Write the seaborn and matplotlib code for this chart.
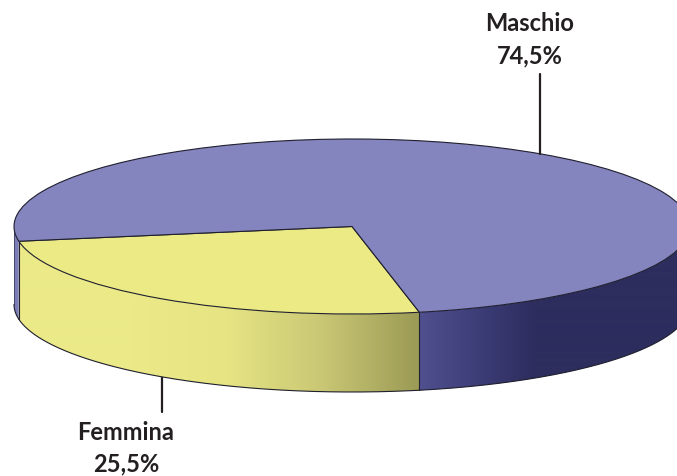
import seaborn as sns
import numpy as np
import matplotlib
matplotlib.use('Agg')
import matplotlib.pyplot as plt

labels = ['Femmina', 'Maschio']
values = [25.5, 74.5]
pct_labels = ['25,5%', '74,5%']

W, H = 677, 477
CX, CY, RX, RY, DEPTH = 352, 227.5, 338, 87.5, 78
START = 189.7
EDGE = '#1f1f2e'
TXT = '#231f20'


def dx(px):
    return (px - CX) / RX


def dy(py):
    return (CY - py) / RY


def side(a0, a1, cmap, x0, x1):
    # extruded rim: horizontal gradient clipped to the rim shape
    th = np.radians(np.linspace(a0, a1, 300))
    d = DEPTH / RY
    xs = np.r_[np.cos(th), np.cos(th)[::-1]]
    ys = np.r_[np.sin(th), np.sin(th)[::-1] - d]
    poly = ax.fill(xs, ys, color='none', lw=0, zorder=1)[0]
    grad = np.clip((np.arange(W) + 0.5 - x0) / (x1 - x0), 0, 1)[None, :]
    im = ax.imshow(grad, cmap=cmap, vmin=0, vmax=1, aspect='auto', zorder=1,
                   extent=(dx(0), dx(W), dy(H), dy(0)))
    im.set_clip_path(poly)
    # bottom edge
    ax.plot(np.cos(th), np.sin(th) - d, color=EDGE, lw=0.8, zorder=2)


sns.set_theme(style='white')
plt.rcParams['font.family'] = ['Lato', 'DejaVu Sans']

fig = plt.figure(figsize=(W / 100, H / 100), dpi=100)
ax = fig.add_axes([0, 0, 1, 1])

angles = np.cumsum([0] + values) / sum(values) * 360 + START
a_f0, a_f1 = angles[0], angles[1]

yellow_side = sns.blend_palette(['#ecea88', '#e6e483', '#c9c774', '#9b9a55'], as_cmap=True)
blue_side = sns.blend_palette(['#50508f', '#3d3d78', '#2d2d5e'], as_cmap=True)
blue_left = sns.blend_palette(['#7c7cb9', '#7c7cb9'], as_cmap=True)

side(180, a_f0, blue_left, 0, 1)
side(a_f0, a_f1, yellow_side, 130, 420)
side(a_f1, 360, blue_side, 420, 535)

ax.pie(values, colors=['#ebea85', '#8484be'], startangle=START, radius=1,
       wedgeprops={'edgecolor': EDGE, 'linewidth': 0.8, 'zorder': 3})

# vertical rim edges
d = DEPTH / RY
for a, lw in [(180, 0.4), (a_f0, 0.8), (a_f1, 0.8)]:
    t = np.radians(a)
    ax.plot([np.cos(t)] * 2, [np.sin(t), np.sin(t) - d], color=EDGE, lw=lw, zorder=2)

ax.set_aspect('auto')
ax.set_xlim(dx(0), dx(W))
ax.set_ylim(dy(H), dy(0))
ax.axis('off')

# leaders and labels
ax.plot([dx(540), dx(540)], [dy(75), dy(155)], color=TXT, lw=1.6, zorder=5)
ax.plot([dx(162), dx(162)], [dy(378), dy(413)], color=TXT, lw=1.6, zorder=0.5)
font = dict(ha='center', va='center', fontsize=17, fontweight='bold', color=TXT)
ax.text(dx(530), dy(23), labels[1], **font)
ax.text(dx(530), dy(56), pct_labels[1], **font)
ax.text(dx(126), dy(432), labels[0], **font)
ax.text(dx(126), dy(464), pct_labels[0], **font)

fig.savefig('out.png', dpi=100)
